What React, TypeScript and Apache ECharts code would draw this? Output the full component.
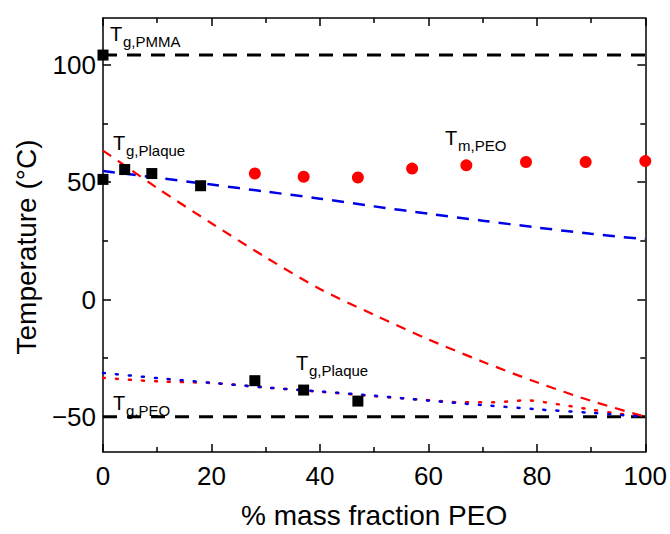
import React, { useEffect, useRef } from "react";
import * as echarts from "echarts";

const xMin = 0;
const xMax = 100;
const yMin = -65;
const yMax = 120;
const yMajorTicks = [-50, 0, 50, 100];
const yMinorTicks = [-25, 25, 75];

const xTitle = "% mass fraction PEO";
const yTitle = "Temperature (°C)";

// Measured glass transitions / melting points
const tgPmmaPoint = [[0, 104.2]];
const tgPlaqueUpper = [[0, 51.2], [4, 55.4], [9, 53.7], [18, 48.5]];
const tgPlaqueLower = [[28, -34.6], [37, -38.6], [47, -43.3]];
const tmPeo = [[28, 53.7], [37, 52.3], [47, 52.0], [57, 55.8], [67, 57.2], [78, 58.6], [89, 58.6], [100, 59.0]];

// Reference lines
const tgPmmaLine = [[0, 104.2], [100, 104.2]];
const tgPeoLine = [[0, -50], [100, -50]];

// Model curves
const blueDashed = [[0, 54.8], [10, 51.9], [20, 49.0], [30, 46.0], [40, 43.0], [50, 39.7], [60, 36.6], [70, 33.6], [80, 30.7], [90, 28.0], [100, 25.7]];
const redDashed = [[0, 63.5], [5, 55.5], [10, 47.5], [20, 32.5], [30, 18.0], [40, 4.5], [50, -6.5], [60, -17.0], [70, -26.5], [80, -35.3], [90, -43.2], [100, -50]];
const blueDotted = [[0, -31.3], [10, -33.5], [20, -35.5], [30, -37.5], [40, -39.2], [50, -41.0], [60, -43.1], [70, -45.0], [80, -46.8], [90, -48.3], [100, -50]];
const redDotted = [[0, -33.4], [10, -34.9], [20, -35.6], [30, -37.5], [40, -39.3], [50, -41.2], [60, -42.9], [66, -43.8], [72, -43.8], [78, -43.0], [84, -44.7], [90, -46.9], [95, -48.6], [100, -50]];

const FONT = "'Liberation Sans', Arial, sans-serif";
const RED = "#ff0000";
const BLUE = "#0000e6";

function annot(main: string, sub: string, x: number, tBase: number) {
  const tSize = 20;
  const sSize = 15;
  return [
    {
      type: "text",
      x,
      y: tBase - 0.35 * tSize,
      style: { text: main, fontSize: tSize, fontFamily: FONT, fill: "#000", verticalAlign: "middle" },
      z: 10,
    },
    {
      type: "text",
      x: x + 13,
      y: tBase + 6 - 0.35 * sSize,
      style: { text: sub, fontSize: sSize, fontFamily: FONT, fill: "#000", verticalAlign: "middle" },
      z: 10,
    },
  ];
}

export default function App() {
  const ref = useRef<HTMLDivElement>(null);
  useEffect(() => {
    if (!ref.current) return;
    const chart = echarts.init(ref.current, null, { renderer: "svg" });
    const axisLine = { show: true, onZero: false, lineStyle: { color: "#000", width: 1.5 } };
    const yAxisBase = (position: string, ticks: number[], len: number, showLine: boolean, showLabel: boolean, extra: any = {}) => ({
      type: "value",
      min: yMin,
      max: yMax,
      position,
      axisLine: { ...axisLine, show: showLine },
      axisTick: { show: true, inside: true, length: len, customValues: ticks, lineStyle: { color: "#000", width: 1.5 } },
      axisLabel: {
        show: showLabel,
        customValues: ticks,
        fontSize: 26,
        fontFamily: FONT,
        color: "#000",
        margin: 7,
        formatter: (v: number) => String(v).replace("-", "\u2212"),
      },
      splitLine: { show: false },
      ...extra,
    });
    const xAxisBase = (position: string, showLabel: boolean, extra: any = {}) => ({
      type: "value",
      min: xMin,
      max: xMax,
      interval: 20,
      position,
      axisLine,
      axisTick: { show: true, inside: true, length: 8, lineStyle: { color: "#000", width: 1.5 } },
      minorTick: { show: true, splitNumber: 2, length: 5, lineStyle: { color: "#000", width: 1.5 } },
      axisLabel: { show: showLabel, fontSize: 26, fontFamily: FONT, color: "#000", margin: 11 },
      splitLine: { show: false },
      minorSplitLine: { show: false },
      ...extra,
    });
    const lineSeries = (data: number[][], color: string, type: any, width: number, smooth: any = 0.3) => ({
      type: "line",
      data,
      symbol: "none",
      smooth,
      clip: false,
      lineStyle: { color, width, type, cap: type[0] < 4 ? "round" : "butt" },
      z: 2,
    });
    const scatter = (data: number[][], symbol: string, size: number, color: string) => ({
      type: "scatter",
      data,
      symbol,
      symbolSize: size,
      itemStyle: { color, opacity: 1 },
      clip: false,
      z: 3,
    });
    chart.setOption({
      animation: false,
      backgroundColor: "#fff",
      grid: { left: 103, right: 24, top: 18, bottom: 79 },
      xAxis: [
        xAxisBase("bottom", true, {
          name: xTitle,
          nameLocation: "middle",
          nameGap: 49,
          nameTextStyle: { fontSize: 28, fontFamily: FONT, color: "#000" },
        }),
        xAxisBase("top", false),
      ],
      yAxis: [
        yAxisBase("left", yMajorTicks, 8, true, true, {
          name: yTitle,
          nameLocation: "middle",
          nameGap: 60,
          nameTextStyle: { fontSize: 28, fontFamily: FONT, color: "#000", padding: [0, 24, 0, 0] },
        }),
        yAxisBase("right", yMajorTicks, 8, true, false),
        yAxisBase("left", yMinorTicks, 5, false, false),
        yAxisBase("right", yMinorTicks, 5, false, false),
      ],
      series: [
        lineSeries(tgPmmaLine, "#000", [14, 10], 3, false),
        lineSeries(tgPeoLine, "#000", [14, 10], 3, false),
        lineSeries(blueDashed, BLUE, [12, 9], 2.5),
        lineSeries(redDashed, RED, [10, 8], 2.2),
        lineSeries(redDotted, RED, [2, 11], 2.5),
        lineSeries(blueDotted, BLUE, [2, 11], 2.5),
        scatter(tmPeo, "circle", 12, RED),
        scatter(tgPmmaPoint, "rect", 11, "#000"),
        scatter(tgPlaqueUpper, "rect", 11, "#000"),
        scatter(tgPlaqueLower, "rect", 11, "#000"),
      ],
      graphic: [
        ...annot("T", "g,PMMA", 110, 41),
        ...annot("T", "g,Plaque", 113, 150),
        ...annot("T", "m,PEO", 445, 145),
        ...annot("T", "g,Plaque", 296, 370),
        ...annot("T", "g,PEO", 113, 410),
      ],
    });
    return () => chart.dispose();
  }, []);
  return <div ref={ref} style={{ position: "absolute", left: 0, top: 0, width: 670, height: 534, background: "#fff" }} />;
}
